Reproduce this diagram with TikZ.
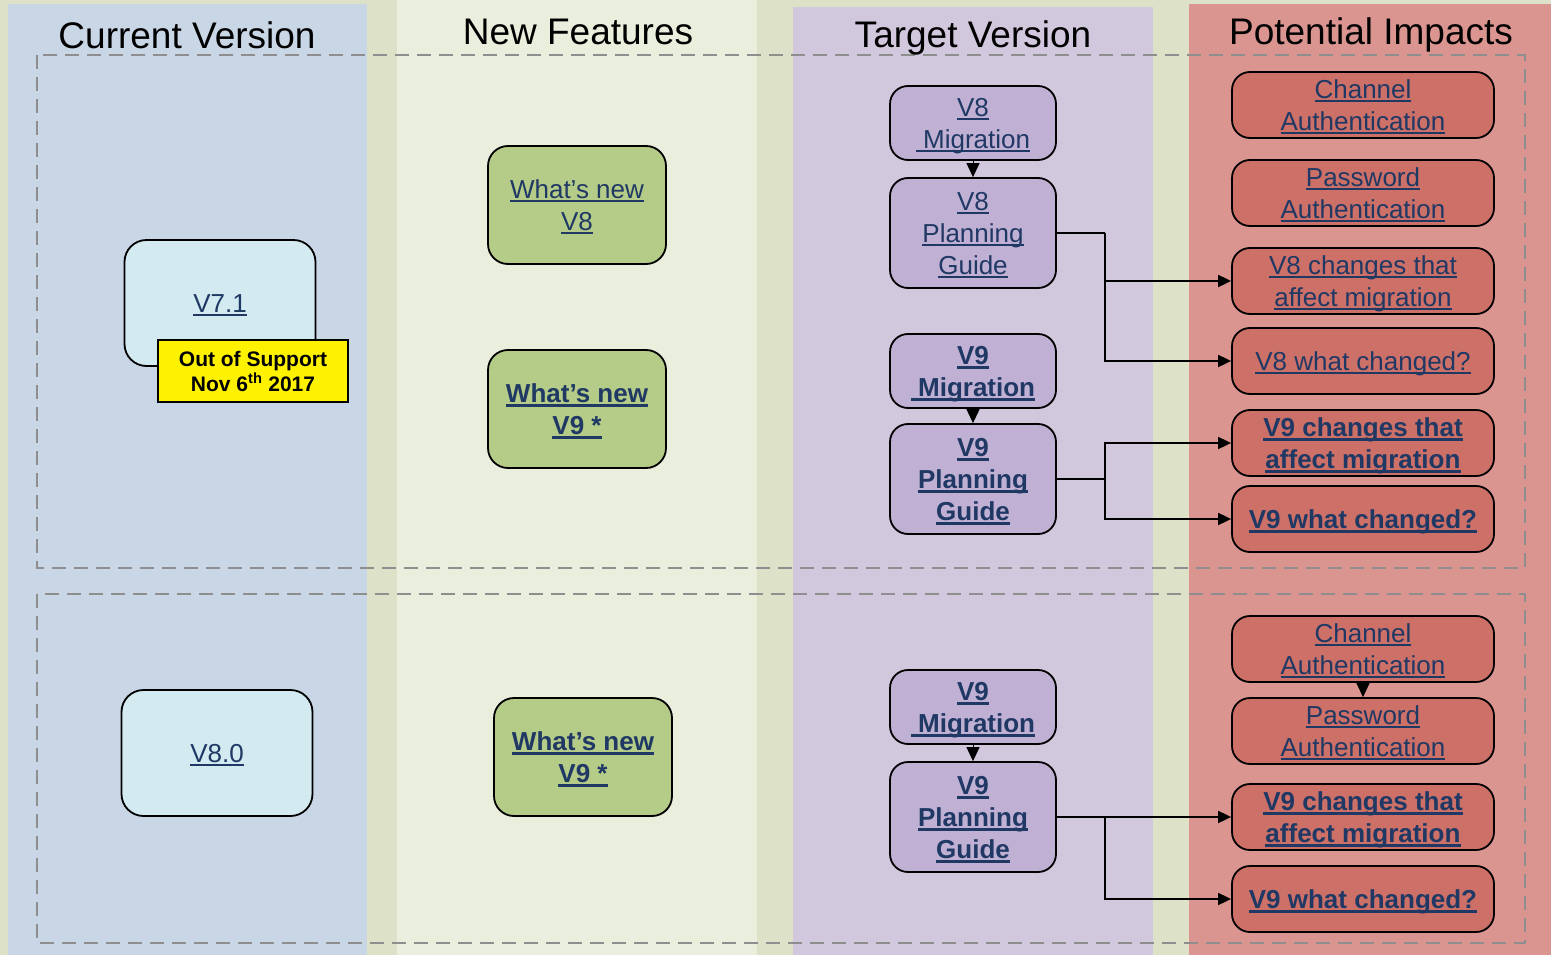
\documentclass[tikz,border=0pt]{standalone}
\usepackage{fontspec}
\setmainfont{Liberation Sans}
\usetikzlibrary{arrows.meta}
\definecolor{bgc}{HTML}{DCE1C8}
\definecolor{colcur}{HTML}{C8D6E6}
\definecolor{colnew}{HTML}{EAEEDC}
\definecolor{coltgt}{HTML}{D2C8DE}
\definecolor{colimp}{HTML}{DA9590}
\definecolor{fillcur}{HTML}{D2EAF0}
\definecolor{fillnew}{HTML}{B5CB88}
\definecolor{filltgt}{HTML}{C0B0D4}
\definecolor{fillimp}{HTML}{CC7068}
\definecolor{txt}{HTML}{1F3864}
\definecolor{dashc}{HTML}{8E8E8E}
\newcommand\ul[1]{\setbox0\hbox{#1}\rlap{\rule[-3.5pt]{\wd0}{1.8pt}}\smash{\box0}\rule[-6.5pt]{0pt}{32pt}}
\newcommand\ulb[1]{\setbox0\hbox{#1}\rlap{\rule[-4pt]{\wd0}{2.3pt}}\smash{\box0}\rule[-6.5pt]{0pt}{32pt}}
\tikzset{
  base/.style={draw=black, line width=1.8pt, rounded corners=18pt, align=center,
    text=txt, font=\fontsize{26}{32}\selectfont, inner sep=0pt},
  bbase/.style={base, font=\bfseries\fontsize{26}{32}\selectfont},
  curbox/.style={base, fill=fillcur, rounded corners=22pt, minimum width=191pt, minimum height=126pt},
  newbox/.style={base, fill=fillnew, rounded corners=20pt, minimum width=178pt, minimum height=118pt},
  tgtbox/.style={base, fill=filltgt, minimum width=166pt},
  impbox/.style={base, fill=fillimp, minimum width=262pt, minimum height=66pt},
  hdr/.style={font=\fontsize{37}{40}\selectfont, text=black, inner sep=0pt},
  dbox/.style={draw=dashc, line width=1.6pt, dash pattern=on 14pt off 8pt},
  conn/.style={draw=black, line width=1.8pt},
  arr/.style={conn, -{Triangle[length=13pt,width=12pt]}},
  smallarr/.style={draw=black, line width=1pt, -{Triangle[length=14pt,width=13pt]}},
}
\begin{document}
\begin{tikzpicture}[x=1pt,y=-1pt]
\useasboundingbox (0,0) rectangle (1551,955);
\fill[bgc] (0,0) rectangle (1551,955);
\fill[colcur] (8,4) rectangle (367,955);
\fill[colnew] (397,0) rectangle (757,955);
\fill[coltgt] (793,7) rectangle (1153,955);
\fill[colimp] (1189,4) rectangle (1551,955);

\draw[dbox] (37,55) rectangle (1525,568);
\draw[dbox] (37,594) rectangle (1525,943);

\node[hdr] (h1) at (187,35) {Current Version};
\node[hdr] (h2) at (578,32) {New Features};
\node[hdr] (h3) at (973,38) {Target Version};
\node[hdr] (h4) at (1371,35) {Potential Impacts};

% Current version
\node[curbox] (v71) at (220,303) {\ul{V7.1}};
\node[draw=black, line width=1.5pt, fill=yellow, minimum width=190pt, minimum height=62pt,
  inner sep=0pt, align=center, font=\bfseries\fontsize{21}{25}\selectfont] (oos) at (253,371)
  {Out of Support\\Nov 6\textsuperscript{th} 2017};
\node[curbox] (v80) at (217,753) {\ul{V8.0}};

% New features
\node[newbox] (n8) at (577,205) {\ul{What’s new}\\\ul{V8}};
\node[newbox, font=\bfseries\fontsize{26}{32}\selectfont] (n9) at (577,409) {\ulb{What’s new}\\\ulb{V9 *}};
\node[newbox, font=\bfseries\fontsize{26}{32}\selectfont] (n9b) at (583,757) {\ulb{What’s new}\\\ulb{V9 *}};

% Target version
\node[tgtbox, minimum height=74pt] (m8) at (973,123) {\ul{V8}\\\ul{\ Migration}};
\node[tgtbox, minimum height=110pt] (p8) at (973,233) {\ul{V8}\\\ul{Planning}\\\ul{Guide}};
\node[tgtbox, bbase, fill=filltgt, minimum height=74pt] (m9) at (973,371) {\ulb{V9}\\\ulb{\ Migration}};
\node[tgtbox, bbase, fill=filltgt, minimum height=110pt] (p9) at (973,479) {\ulb{V9}\\\ulb{Planning}\\\ulb{Guide}};
\node[tgtbox, bbase, fill=filltgt, minimum height=74pt] (m9b) at (973,707) {\ulb{V9}\\\ulb{\ Migration}};
\node[tgtbox, bbase, fill=filltgt, minimum height=110pt] (p9b) at (973,817) {\ulb{V9}\\\ulb{Planning}\\\ulb{Guide}};

% Potential impacts
\node[impbox] (ca) at (1363,105) {\ul{Channel}\\\ul{Authentication}};
\node[impbox] (pa) at (1363,193) {\ul{Password}\\\ul{Authentication}};
\node[impbox] (c8) at (1363,281) {\ul{V8 changes that}\\\ul{affect migration}};
\node[impbox] (w8) at (1363,361) {\ul{V8 what changed?}};
\node[impbox, bbase, fill=fillimp] (c9) at (1363,443) {\ulb{V9 changes that}\\\ulb{affect migration}};
\node[impbox, bbase, fill=fillimp] (w9) at (1363,519) {\ulb{V9 what changed?}};

\node[impbox] (cab) at (1363,649) {\ul{Channel}\\\ul{Authentication}};
\node[impbox] (pab) at (1363,731) {\ul{Password}\\\ul{Authentication}};
\node[impbox, bbase, fill=fillimp] (c9b) at (1363,817) {\ulb{V9 changes that}\\\ulb{affect migration}};
\node[impbox, bbase, fill=fillimp] (w9b) at (1363,899) {\ulb{V9 what changed?}};

% small arrows
\draw[smallarr] (m8.south) -- (p8.north);
\draw[smallarr] (m9.south) -- (p9.north);
\draw[smallarr] (m9b.south) -- (p9b.north);
\draw[smallarr] (cab.south) -- (pab.north);

% connectors
\coordinate (j8) at (1105,233);
\draw[conn] (p8.east) -- (j8);
\draw[arr] (j8) |- (c8.west);
\draw[arr] (j8) |- (w8.west);
\coordinate (j9) at (1105,479);
\draw[conn] (p9.east) -- (j9);
\draw[arr] (j9) |- (c9.west);
\draw[arr] (j9) |- (w9.west);
\coordinate (jb) at (1105,817);
\draw[arr] (p9b.east) -- (c9b.west);
\draw[arr] (jb) |- (w9b.west);
\end{tikzpicture}
\end{document}
